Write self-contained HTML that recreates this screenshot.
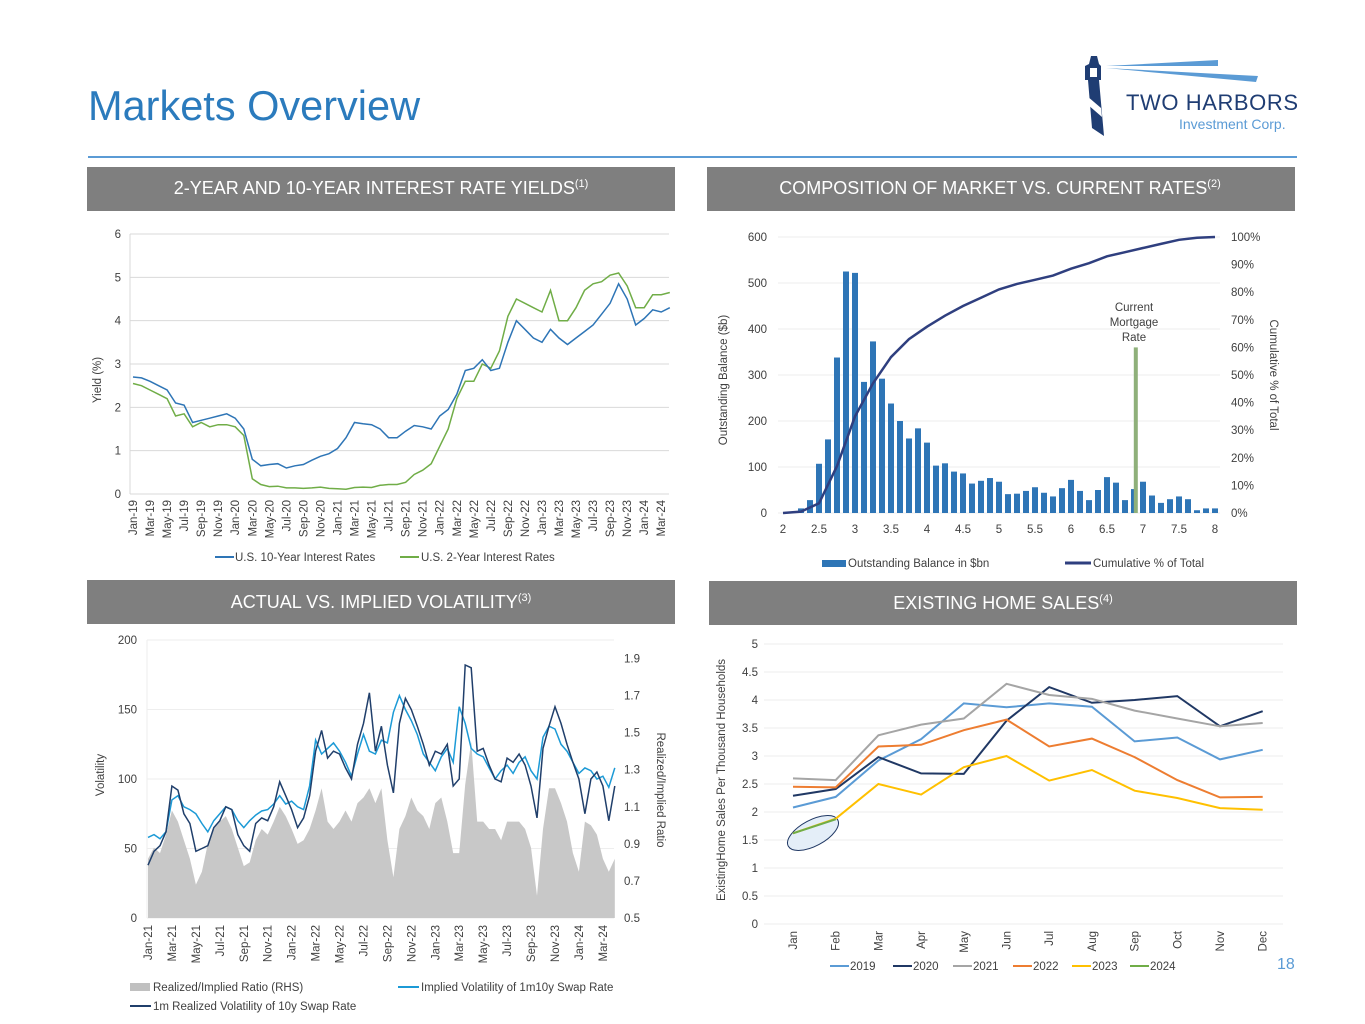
<!DOCTYPE html>
<html><head><meta charset="utf-8"><title>Markets Overview</title>
<style>
html,body{margin:0;padding:0;background:#fff;}
svg{display:block;font-family:"Liberation Sans",sans-serif;}
.t{font-size:11.5px;fill:#404040;}
.hd{font-size:18px;fill:#fff;}
</style></head>
<body>
<svg id="page" width="1365" height="1024" viewBox="0 0 1365 1024" xmlns="http://www.w3.org/2000/svg">
<text x="88" y="120" font-size="41.5" fill="#2b7bbd">Markets Overview</text>
<rect x="88" y="156" width="1209" height="2" fill="#5b9bd5"/>
<g>
<path d="M1091 56 L1097 56 L1099 64 L1101 66 L1101 80 L1099 80 L1104 136 L1092 128 L1088 80 L1085 80 L1085 66 L1089 64 Z" fill="#1f3d73"/>
<rect x="1090" y="68" width="7" height="9" fill="#fff"/>
<path d="M1087 96 L1101 108 L1102 117 L1087 104 Z" fill="#fff"/>
<path d="M1106 66 L1218 60 L1218 66 Z" fill="#5b9bd5"/>
<path d="M1106 68 L1258 76 L1256 82 Z" fill="#5b9bd5"/>
<text x="1126" y="110" font-size="22" fill="#1f3d73" textLength="172">TWO HARBORS</text>
<text x="1179" y="129" font-size="14" fill="#5b9bd5">Investment Corp.</text>
</g>
<rect x="87" y="167" width="588" height="44" fill="#7f7f7f"/>
<text class="hd" x="381" y="194" text-anchor="middle">2-YEAR AND 10-YEAR INTEREST RATE YIELDS<tspan font-size="11" dy="-7">(1)</tspan></text>
<rect x="707" y="167" width="588" height="44" fill="#7f7f7f"/>
<text class="hd" x="1000" y="194" text-anchor="middle">COMPOSITION OF MARKET VS. CURRENT RATES<tspan font-size="11" dy="-7">(2)</tspan></text>
<rect x="87" y="580" width="588" height="44" fill="#7f7f7f"/>
<text class="hd" x="381" y="608" text-anchor="middle">ACTUAL VS. IMPLIED VOLATILITY<tspan font-size="11" dy="-7">(3)</tspan></text>
<rect x="709" y="581" width="588" height="44" fill="#7f7f7f"/>
<text class="hd" x="1003" y="609" text-anchor="middle">EXISTING HOME SALES<tspan font-size="11" dy="-7">(4)</tspan></text>

<text class="t" font-size="10" transform="translate(101,380) rotate(-90)" text-anchor="middle">Yield (%)</text>
<text class="t" font-size="11" transform="translate(727,380) rotate(-90)" text-anchor="middle">Outstanding Balance ($b)</text>
<text class="t" font-size="11" transform="translate(1270,375) rotate(90)" text-anchor="middle">Cumulative % of Total</text>
<text class="t" font-size="10" transform="translate(104,775) rotate(-90)" text-anchor="middle">Volatility</text>
<text class="t" font-size="11" transform="translate(657,790) rotate(90)" text-anchor="middle">Realized/Implied Ratio</text>
<text class="t" font-size="9" transform="translate(725,780) rotate(-90)" text-anchor="middle">ExistingHome Sales Per Thousand Households</text>
<text class="t" font-size="11" text-anchor="middle"><tspan x="1134" y="311">Current</tspan><tspan x="1134" y="326">Mortgage</tspan><tspan x="1134" y="341">Rate</tspan></text>
<text x="1277" y="969" font-size="16" fill="#5b9bd5">18</text>

<g>
<line x1="215" y1="557" x2="234" y2="557" stroke="#2e75b6" stroke-width="2"/><text class="t" x="235" y="561">U.S. 10-Year Interest Rates</text>
<line x1="400" y1="557" x2="419" y2="557" stroke="#70ad47" stroke-width="2"/><text class="t" x="421" y="561">U.S. 2-Year Interest Rates</text>
</g>
<g>
<rect x="822" y="560" width="24" height="7" fill="#2e75b6"/><text class="t" x="848" y="567">Outstanding Balance in $bn</text>
<line x1="1065" y1="563" x2="1091" y2="563" stroke="#2f3f7f" stroke-width="3"/><text class="t" x="1093" y="567">Cumulative % of Total</text>
</g>
<g>
<rect x="130" y="983" width="20" height="8" fill="#c0c0c0"/><text class="t" x="153" y="991">Realized/Implied Ratio (RHS)</text>
<line x1="398" y1="987" x2="419" y2="987" stroke="#1c9ad6" stroke-width="2"/><text class="t" x="421" y="991">Implied Volatility of 1m10y Swap Rate</text>
<line x1="130" y1="1006" x2="151" y2="1006" stroke="#203f6b" stroke-width="2"/><text class="t" x="153" y="1010">1m Realized Volatility of 10y Swap Rate</text>
</g>
<g id="c1"></g>
<g id="c2"></g>
<g id="c3"></g>
<g id="c4"></g>
</svg>
<script>
const yieldTicks=[0,1,2,3,4,5,6];
const yieldMonthLabels=["Jan-19","Mar-19","May-19","Jul-19","Sep-19","Nov-19","Jan-20","Mar-20","May-20","Jul-20","Sep-20","Nov-20","Jan-21","Mar-21","May-21","Jul-21","Sep-21","Nov-21","Jan-22","Mar-22","May-22","Jul-22","Sep-22","Nov-22","Jan-23","Mar-23","May-23","Jul-23","Sep-23","Nov-23","Jan-24","Mar-24"];
const tenYear=[2.7,2.68,2.6,2.5,2.4,2.1,2.05,1.65,1.7,1.75,1.8,1.85,1.75,1.5,0.8,0.65,0.68,0.7,0.6,0.65,0.68,0.78,0.87,0.93,1.05,1.3,1.65,1.62,1.6,1.5,1.3,1.3,1.45,1.58,1.55,1.5,1.8,1.95,2.3,2.85,2.9,3.1,2.85,2.9,3.5,4.0,3.8,3.6,3.5,3.8,3.6,3.45,3.6,3.75,3.9,4.15,4.4,4.85,4.5,3.9,4.05,4.25,4.2,4.3];
const twoYear=[2.55,2.5,2.4,2.3,2.2,1.8,1.85,1.55,1.65,1.55,1.6,1.6,1.55,1.35,0.35,0.22,0.17,0.18,0.14,0.14,0.13,0.14,0.16,0.13,0.12,0.11,0.15,0.16,0.15,0.2,0.22,0.22,0.27,0.45,0.55,0.7,1.1,1.5,2.2,2.6,2.6,3.0,2.9,3.3,4.1,4.5,4.4,4.3,4.2,4.7,4.0,4.0,4.3,4.7,4.85,4.9,5.05,5.1,4.8,4.3,4.3,4.6,4.6,4.65];
const balanceRates=[2,2.125,2.25,2.375,2.5,2.625,2.75,2.875,3,3.125,3.25,3.375,3.5,3.625,3.75,3.875,4,4.125,4.25,4.375,4.5,4.625,4.75,4.875,5,5.125,5.25,5.375,5.5,5.625,5.75,5.875,6,6.125,6.25,6.375,6.5,6.625,6.75,6.875,7,7.125,7.25,7.375,7.5,7.625,7.75,7.875,8];
const balances=[0,2,10,28,107,160,338,525,522,285,373,292,238,200,162,184,153,103,108,90,86,64,70,76,68,41,42,48,56,44,36,54,72,48,28,50,78,66,28,52,68,38,22,30,36,30,6,10,10];
const cumRates=[2,2.25,2.5,2.75,3,3.25,3.5,3.75,4,4.25,4.5,4.75,5,5.25,5.5,5.75,6,6.25,6.5,6.75,7,7.25,7.5,7.75,8];
const cumPct=[0,0.5,3.5,17,35,47,56.5,63,67.5,71.5,75,78,81,83,84.5,86,88.5,90.5,93,94.5,96,97.5,99,99.7,100];
const balanceTicks=[0,100,200,300,400,500,600];
const pctTicks=[0,10,20,30,40,50,60,70,80,90,100];
const rateTicks=[2,2.5,3,3.5,4,4.5,5,5.5,6,6.5,7,7.5,8];
const currentRate=[6.9];
const currentRateHeight=[360];
const volLabels=["Jan-21","Mar-21","May-21","Jul-21","Sep-21","Nov-21","Jan-22","Mar-22","May-22","Jul-22","Sep-22","Nov-22","Jan-23","Mar-23","May-23","Jul-23","Sep-23","Nov-23","Jan-24","Mar-24"];
const volTicks=[0,50,100,150,200];
const ratioTicks=[0.5,0.7,0.9,1.1,1.3,1.5,1.7,1.9];
const impliedVol=[58,60,57,62,85,88,80,78,75,68,62,70,75,80,78,70,65,70,74,77,78,82,88,82,84,80,78,95,128,118,122,126,120,112,102,118,132,120,118,128,126,148,160,150,142,132,118,112,106,116,122,112,152,140,122,118,116,108,100,106,110,104,112,116,106,100,130,138,136,125,120,112,104,108,106,100,102,94,108];
const realizedVol=[38,48,52,62,95,92,75,68,48,50,52,65,70,80,78,60,52,48,68,72,70,80,98,88,78,65,72,88,120,135,115,120,118,108,100,125,140,162,120,138,110,90,140,158,150,138,125,110,120,118,125,95,100,182,180,120,122,110,100,98,115,112,118,110,95,72,122,138,152,140,125,112,100,75,100,105,95,70,95];
const ratioVals=[0.82,0.88,0.85,0.95,1.08,1.02,0.92,0.82,0.68,0.75,0.9,0.98,1.02,1.05,0.98,0.88,0.78,0.8,0.92,0.98,0.95,1.02,1.1,1.05,0.98,0.9,0.92,0.98,1.08,1.2,1.02,0.98,1.02,1.08,1.02,1.12,1.15,1.2,1.12,1.2,0.92,0.72,0.98,1.05,1.15,1.08,1.05,0.98,1.12,1.15,1.02,0.85,0.85,1.22,1.45,1.02,1.02,0.98,0.98,0.92,1.02,1.02,1.02,0.98,0.88,0.62,0.98,1.2,1.2,1.12,1.02,0.85,0.75,1.02,1.0,0.95,0.82,0.75,0.82];
const monthsShort=["Jan","Feb","Mar","Apr","May","Jun","Jul","Aug","Sep","Oct","Nov","Dec"];
const salesTicks=[0,0.5,1,1.5,2,2.5,3,3.5,4,4.5,5];
const sales2019=[2.08,2.27,2.92,3.3,3.94,3.87,3.94,3.88,3.26,3.33,2.94,3.11];
const sales2020=[2.29,2.41,2.98,2.69,2.68,3.63,4.23,3.95,4.0,4.07,3.53,3.8];
const sales2021=[2.6,2.57,3.37,3.56,3.67,4.29,4.09,4.02,3.81,3.67,3.53,3.59];
const sales2022=[2.45,2.44,3.17,3.2,3.46,3.65,3.17,3.31,2.98,2.57,2.26,2.27];
const sales2023=[1.62,1.88,2.5,2.31,2.8,3.0,2.56,2.75,2.38,2.25,2.07,2.04];
const sales2024=[1.62,1.87];

const NS="http://www.w3.org/2000/svg";
function mk(tag,attrs,parent){const e=document.createElementNS(NS,tag);for(const k in attrs)e.setAttribute(k,attrs[k]);parent.appendChild(e);return e;}
function txt(s,attrs,parent){const e=mk('text',attrs,parent);e.textContent=s;e.setAttribute('class','t');return e;}
function pathOf(xs,ys){let d='';for(let i=0;i<xs.length;i++){if(ys[i]==null)continue;d+=(d?'L':'M')+xs[i].toFixed(1)+' '+ys[i].toFixed(1);}return d;}

(function(){
const g=document.getElementById('c1');
const x=i=>133+i*8.52, y=v=>494-v*43.33;
yieldTicks.forEach(v=>{
 const l=mk('line',{x1:130,x2:669,y1:y(v),y2:y(v),stroke:'#d9d9d9'},g);
 
 
 const t=txt(v,{x:121,y:y(v)+4,'text-anchor':'end'},g);
 
 
});
mk('line',{x1:130,x2:130,y1:234,y2:494,stroke:'#d9d9d9'},g);
yieldMonthLabels.forEach((s,i)=>{
 const t=txt(s,{transform:`translate(${x(i*2)+4},500) rotate(-90)`,'text-anchor':'end'},g);
 
 
});
const xs=tenYear.map((_,i)=>x(i));
const p2=mk('path',{d:pathOf(xs,twoYear.map(y)),fill:'none',stroke:'#70ad47','stroke-width':1.5},g);


const p1=mk('path',{d:pathOf(xs,tenYear.map(y)),fill:'none',stroke:'#2e75b6','stroke-width':1.5},g);


})();

(function(){
const g=document.getElementById('c2');
const x=r=>783+(r-2)*72, yb=v=>513-v*0.46, yc=p=>513-p*2.76;
balanceTicks.forEach(v=>{
 const l=mk('line',{x1:778,x2:1220,y1:yb(v),y2:yb(v),stroke:'#eeeeee'},g);
 
 
 const t=txt(v,{x:767,y:yb(v)+4,'text-anchor':'end'},g);
 
 
});
pctTicks.forEach(p=>{
 const t=txt(p+'%',{x:1231,y:yc(p)+4},g);
 
 
});
rateTicks.forEach(r=>{
 const t=txt(r,{x:x(r),y:533,'text-anchor':'middle'},g);
 
 
});
balanceRates.forEach((r,i)=>{
 const b=mk('rect',{x:x(r)-3,y:yb(balances[i]),width:6,height:Math.max(0,513-yb(balances[i])),fill:'#2e75b6'},g);
 
 
});
const cb=mk('rect',{x:x(currentRate[0])-2,y:yb(currentRateHeight[0]),width:4,height:513-yb(currentRateHeight[0]),fill:'#8fb07a'},g);


const p=mk('path',{d:pathOf(cumRates.map(x),cumPct.map(yc)),fill:'none',stroke:'#2f3f7f','stroke-width':2.5},g);


})();

(function(){
const g=document.getElementById('c3');
const x=i=>148+i*5.985, y=v=>918-v*1.39, yr=r=>y((r-0.5)*200/1.5);
volTicks.forEach(v=>{
 const l=mk('line',{x1:147,x2:614,y1:y(v),y2:y(v),stroke:'#eeeeee'},g);
 
 
 const t=txt(v,{x:137,y:y(v)+4,'text-anchor':'end'},g);
 
 
});
mk('line',{x1:147,x2:147,y1:640,y2:918,stroke:'#eeeeee'},g);
ratioTicks.forEach(r=>{
 const t=txt(r.toFixed(1),{x:624,y:yr(r)+4},g);
 
 
});
volLabels.forEach((s,i)=>{
 const t=txt(s,{transform:`translate(${x(i*4)+4},925) rotate(-90)`,'text-anchor':'end'},g);
 
 
});
const xs=ratioVals.map((_,i)=>x(i));
const a=mk('path',{d:pathOf(xs,ratioVals.map(yr))+`L${xs[xs.length-1]} 918L${xs[0]} 918Z`,fill:'#c8c8c8'},g);


const pi=mk('path',{d:pathOf(xs,impliedVol.map(y)),fill:'none',stroke:'#1c9ad6','stroke-width':1.5},g);


const pr=mk('path',{d:pathOf(xs,realizedVol.map(y)),fill:'none',stroke:'#203f6b','stroke-width':1.5},g);


})();

(function(){
const g=document.getElementById('c4');
const x=i=>793+i*42.7, y=v=>924-v*56;
salesTicks.forEach(v=>{
 const l=mk('line',{x1:764,x2:1283,y1:y(v),y2:y(v),stroke:'#eeeeee'},g);
 
 
 const t=txt(v,{x:758,y:y(v)+4,'text-anchor':'end'},g);
 
 
});
monthsShort.forEach((s,i)=>{
 const t=txt(s,{transform:`translate(${x(i)+4},931) rotate(-90)`,'text-anchor':'end'},g);
 
 
});
const e=mk('ellipse',{cx:813,cy:833,rx:28,ry:13,transform:'rotate(-28 813 833)',fill:'#e4eef8',stroke:'#203864','stroke-width':1},g);


const series=[[sales2019,'#5b9bd5','2019'],[sales2020,'#203864','2020'],[sales2021,'#a5a5a5','2021'],[sales2022,'#ed7d31','2022'],[sales2023,'#ffc000','2023'],[sales2024,'#70ad47','2024']];
series.forEach((s,k)=>{
 const p=mk('path',{d:pathOf(s[0].map((_,i)=>x(i)),s[0].map(y)),fill:'none',stroke:s[1],'stroke-width':2},g);
 
 
 const lx=[830,893,953,1013,1072,1130][k];
 const l=mk('line',{x1:lx,x2:lx+19,y1:966,y2:966,stroke:s[1],'stroke-width':2},g);
 
 
 const t=txt(s[2],{x:lx+20,y:970},g);
 
 
});
})();
</script>
</body></html>
